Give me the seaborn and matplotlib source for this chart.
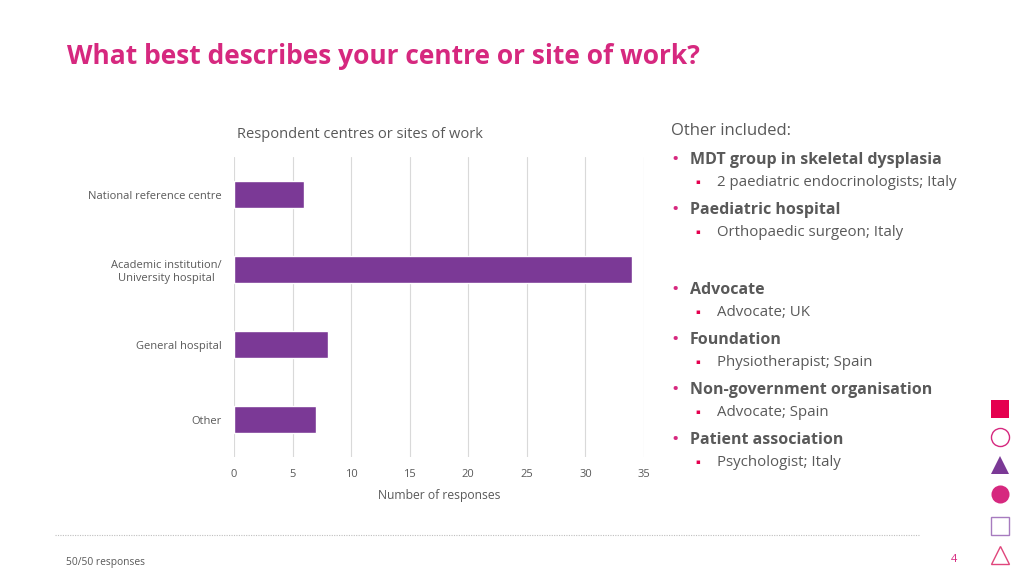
import numpy as np
import pandas as pd
import matplotlib.pyplot as plt
import seaborn as sns

categories = ['National reference centre', 'Academic institution/\nUniversity hospital',
              'General hospital', 'Other']
responses = [6, 34, 8, 7]

other_groups = ['MDT group in skeletal dysplasia', 'Paediatric hospital', 'Advocate',
                'Foundation', 'Non-government organisation', 'Patient association']
other_details = ['2 paediatric endocrinologists; Italy', 'Orthopaedic surgeon; Italy',
                 'Advocate; UK', 'Physiotherapist; Spain', 'Advocate; Spain',
                 'Psychologist; Italy']

data = pd.DataFrame({'Centre': categories, 'Responses': responses})

sns.set_theme(style='white')
plt.rcParams['font.family'] = ['Open Sans', 'DejaVu Sans']

gray = '#595959'
pink = '#D6287F'
purple = '#7B3996'

fig = plt.figure(figsize=(10.24, 5.76), dpi=100)
ax = fig.add_axes([0.2285, 0.2066, 0.4004, 0.5208])

sns.barplot(data=data, x='Responses', y='Centre', orient='h', color=purple,
            width=0.35, saturation=1, ax=ax)
ax.set_xlim(0, 35)
ax.set_ylim(3.5, -0.5)
ax.set_xticks(range(0, 36, 5))
ax.grid(axis='x', color='#D9D9D9', linewidth=0.8)
ax.set_axisbelow(True)
for s in ax.spines.values():
    s.set_visible(False)
ax.tick_params(axis='both', length=0, labelsize=8, labelcolor=gray)
ax.tick_params(axis='y', pad=9)
ax.tick_params(axis='x', pad=9)
ax.set_ylabel('')
ax.set_xlabel('Number of responses', fontsize=8.7, color=gray, labelpad=6)
for lbl in ax.get_yticklabels():
    lbl.set_horizontalalignment('right')
    lbl.set_multialignment('center')

# chart title sits left-aligned over the plot area
fig.text(237 / 1024, 1 - 134 / 576, 'Respondent centres or sites of work', fontsize=10.5,
         color=gray, va='center', ha='left')

# slide title
fig.text(67 / 1024, 1 - 56 / 576, 'What best describes your centre or site of work?',
         fontsize=19, fontweight='bold', color=pink, va='center', ha='left')

# right-hand list
fig.text(671 / 1024, 1 - 131 / 576, 'Other included:', fontsize=12, color=gray,
         va='center', ha='left')
group_y = [160, 210, 290, 340, 390, 440]
for g, d, y in zip(other_groups, other_details, group_y):
    fig.text(671 / 1024, 1 - y / 576, '•', fontsize=14, color=pink, va='center')
    fig.text(690 / 1024, 1 - y / 576, g, fontsize=11.5, fontweight='bold', color=gray,
             va='center')
    fig.text(695 / 1024, 1 - (y + 22) / 576, '▪', fontsize=5, color='#E5004F',
             va='center')
    fig.text(717 / 1024, 1 - (y + 22) / 576, d, fontsize=10.8, color=gray, va='center')

# footer
fig.add_artist(plt.Line2D([55 / 1024, 920 / 1024], [1 - 535 / 576, 1 - 535 / 576],
                          color='#BFBFBF', linestyle=(0, (1, 1.2)), linewidth=0.8))
fig.text(66 / 1024, 1 - 563 / 576, '50/50 responses', fontsize=7.4, color=gray, va='center')
fig.text(951 / 1024, 1 - 559 / 576, '4', fontsize=8, color=pink, va='center')

# decorative shapes
shape_x = 1000 / 1024
shapes = [('s', 409, '#E5004F', True), ('o', 437, '#D6287F', False),
          ('^', 465, '#7B3996', True), ('o', 494, '#D6287F', True),
          ('s', 526, '#A77BBF', False), ('^', 555, '#E0457B', False)]
for m, y, c, filled in shapes:
    fig.add_artist(plt.Line2D([shape_x], [1 - y / 576], marker=m, markersize=13,
                              markerfacecolor=c if filled else 'white',
                              markeredgecolor=c, markeredgewidth=1 if not filled else 0,
                              linestyle='none'))

fig.savefig('out.png', dpi=100)
